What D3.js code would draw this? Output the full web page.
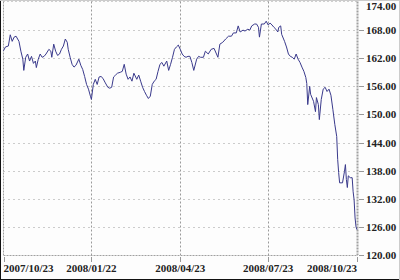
<!DOCTYPE html>
<html>
<head>
<meta charset="utf-8">
<script src="https://cdn.jsdelivr.net/npm/d3@7"></script>
<style>
  html, body { margin: 0; padding: 0; background: #fff; }
  svg { display: block; }
  .lbl { font-family: "Liberation Serif", "DejaVu Serif", serif; font-weight: bold; font-size: 11px; fill: #222; }
</style>
</head>
<body>
<svg id="chart" width="400" height="280"></svg>
<script>
const dates = [
  "2007-10-23","2007-10-25","2007-10-28","2007-10-30","2007-11-01","2007-11-03","2007-11-05","2007-11-08",
  "2007-11-10","2007-11-12","2007-11-13","2007-11-15","2007-11-17","2007-11-19","2007-11-21","2007-11-23",
  "2007-11-25","2007-11-26","2007-11-28","2007-11-30","2007-12-02","2007-12-04","2007-12-06","2007-12-09",
  "2007-12-11","2007-12-12","2007-12-14","2007-12-16","2007-12-18","2007-12-20","2007-12-22","2007-12-24",
  "2007-12-26","2007-12-28","2007-12-29","2007-12-31","2008-01-02","2008-01-04","2008-01-06","2008-01-09",
  "2008-01-11","2008-01-13","2008-01-15","2008-01-17","2008-01-19","2008-01-21","2008-01-22","2008-01-24",
  "2008-01-26","2008-01-28","2008-01-30","2008-02-01","2008-02-03","2008-02-05","2008-02-08","2008-02-10",
  "2008-02-12","2008-02-14","2008-02-16","2008-02-18","2008-02-21","2008-02-23","2008-02-25","2008-02-27",
  "2008-02-29","2008-03-02","2008-03-04","2008-03-06","2008-03-09","2008-03-11","2008-03-13","2008-03-15",
  "2008-03-17","2008-03-19","2008-03-21","2008-03-23","2008-03-25","2008-03-27","2008-03-29","2008-03-31",
  "2008-04-02","2008-04-04","2008-04-06","2008-04-09","2008-04-11","2008-04-13","2008-04-15","2008-04-17",
  "2008-04-19","2008-04-21","2008-04-23","2008-04-25","2008-04-27","2008-04-29","2008-05-01","2008-05-03",
  "2008-05-05","2008-05-07","2008-05-10","2008-05-12","2008-05-14","2008-05-17","2008-05-19","2008-05-22",
  "2008-05-25","2008-05-28","2008-06-01","2008-06-03","2008-06-06","2008-06-09","2008-06-12","2008-06-15",
  "2008-06-17","2008-06-20","2008-06-22","2008-06-24","2008-06-27","2008-06-29","2008-07-02","2008-07-04",
  "2008-07-06","2008-07-09","2008-07-11","2008-07-13","2008-07-14","2008-07-16","2008-07-19","2008-07-21",
  "2008-07-23","2008-07-25","2008-07-27","2008-07-29","2008-07-31","2008-08-02","2008-08-03","2008-08-05",
  "2008-08-06","2008-08-09","2008-08-11","2008-08-13","2008-08-15","2008-08-17","2008-08-19","2008-08-21",
  "2008-08-23","2008-08-25","2008-08-27","2008-08-29","2008-08-31","2008-09-01","2008-09-02","2008-09-04",
  "2008-09-05","2008-09-08","2008-09-10","2008-09-11","2008-09-13","2008-09-14","2008-09-16","2008-09-18",
  "2008-09-20","2008-09-22","2008-09-24","2008-09-26","2008-09-28","2008-09-30","2008-10-02","2008-10-03",
  "2008-10-04","2008-10-05","2008-10-08","2008-10-10","2008-10-11","2008-10-12","2008-10-13","2008-10-14",
  "2008-10-16","2008-10-18","2008-10-19","2008-10-20","2008-10-21","2008-10-22","2008-10-23"
];

const prices = [
  163.6,164.4,164.6,167.0,165.6,166.5,166.7,165.6,
  163.5,161.8,159.4,162.2,162.9,161.4,162.4,160.9,
  161.4,160.0,161.8,162.9,162.2,162.4,162.9,163.9,
  163.5,162.2,165.0,163.5,162.6,162.9,163.9,164.6,
  166.1,165.4,163.9,162.2,160.7,160.1,160.5,161.8,
  160.5,159.6,158.1,156.4,155.4,153.9,153.2,156.4,
  157.5,156.4,158.0,158.1,157.7,156.9,155.8,155.6,
  155.8,158.0,158.4,158.8,159.0,159.2,160.7,158.6,
  157.5,158.0,157.1,158.8,157.5,158.4,157.1,155.8,
  154.9,154.1,153.4,153.9,156.4,157.1,157.5,159.2,
  160.7,161.1,160.3,161.4,159.4,160.7,162.2,163.9,
  164.4,164.8,163.9,162.9,162.4,162.2,162.4,162.4,
  161.1,159.4,161.8,162.4,162.2,162.2,163.5,162.9,
  163.9,164.1,162.2,165.0,165.4,166.1,166.7,166.7,
  167.4,167.4,168.9,167.6,168.0,167.8,168.2,168.0,
  168.9,169.3,169.3,168.6,166.5,169.3,169.3,169.9,
  169.1,169.5,169.1,168.6,168.2,167.6,168.6,168.9,
  167.1,165.6,164.4,162.9,162.4,162.2,161.8,162.9,
  161.8,161.1,160.1,159.2,157.9,156.6,152.1,156.0,
  154.3,152.8,150.6,153.6,152.1,148.9,153.2,155.4,
  155.8,154.9,155.4,154.1,151.1,147.9,145.3,140.4,
  137.6,135.4,135.4,137.8,139.3,136.1,134.4,136.9,
  136.5,136.5,133.5,131.8,127.9,126.0,125.4
];

const xTickDates = ["2007-10-23","2008-01-22","2008-04-23","2008-07-23","2008-10-23"];
const xTickLabels = ["2007/10/23","2008/01/22","2008/04/23","2008/07/23","2008/10/23"];
const yTicks = [120,126,132,138,144,150,156,162,168,174];

const parse = d3.timeParse("%Y-%m-%d");
const data = dates.map((d, i) => ({ date: parse(d), value: prices[i] }));

const plotL = 3.5, plotR = 357, plotT = 1.5, plotB = 255;

const x = d3.scaleTime()
  .domain([parse("2007-10-23"), parse("2008-10-23")])
  .range([plotL, plotR]);

const y = d3.scaleLinear()
  .domain([120, 174])
  .range([plotB, 2]);

const svg = d3.select("#chart");

svg.append("rect")
  .attr("width", 400).attr("height", 280)
  .attr("fill", "#fdfdfd");

// outer frame
svg.append("line").attr("x1", 0.5).attr("x2", 0.5).attr("y1", 0).attr("y2", 280)
  .attr("stroke", "#111");
svg.append("line").attr("x1", 0).attr("x2", 400).attr("y1", 279.5).attr("y2", 279.5)
  .attr("stroke", "#111");
svg.append("line").attr("x1", 0).attr("x2", 400).attr("y1", 0.5).attr("y2", 0.5)
  .attr("stroke", "#ccc");
svg.append("line").attr("x1", 399.5).attr("x2", 399.5).attr("y1", 0).attr("y2", 280)
  .attr("stroke", "#ccc");

// horizontal grid
svg.append("g")
  .selectAll("line")
  .data(yTicks.filter(v => v > 120 && v < 174))
  .enter()
  .append("line")
  .attr("x1", plotL).attr("x2", plotR)
  .attr("y1", d => Math.round(y(d)) + 0.5)
  .attr("y2", d => Math.round(y(d)) + 0.5)
  .attr("stroke", "#9a9a9a")
  .attr("stroke-dasharray", "1,4");

// vertical grid
svg.append("g")
  .selectAll("line")
  .data(xTickDates.slice(1, -1))
  .enter()
  .append("line")
  .attr("x1", d => Math.round(x(parse(d))) + 0.5)
  .attr("x2", d => Math.round(x(parse(d))) + 0.5)
  .attr("y1", plotT).attr("y2", plotB)
  .attr("stroke", "#9a9a9a")
  .attr("stroke-dasharray", "2,2");

// plot border
const border = svg.append("g")
  .attr("stroke", "#a0a0a0")
  .attr("fill", "none");
border.append("line").attr("x1", plotL).attr("x2", plotL).attr("y1", plotT).attr("y2", plotB)
  .attr("stroke-dasharray", "2,1");
border.append("line").attr("x1", plotL).attr("x2", plotR).attr("y1", plotT).attr("y2", plotT)
  .attr("stroke-dasharray", "1,3");
border.append("line").attr("x1", plotL).attr("x2", plotR + 1).attr("y1", plotB + 0.5).attr("y2", plotB + 0.5)
  .attr("stroke-dasharray", "2,1");
border.append("line").attr("x1", plotR + 0.5).attr("x2", plotR + 0.5).attr("y1", plotT).attr("y2", plotB)
  .attr("stroke-width", 2)
  .attr("stroke-dasharray", "2,1");

// price line
const line = d3.line()
  .x(d => x(d.date))
  .y(d => y(d.value));

svg.append("path")
  .datum(data)
  .attr("d", line)
  .attr("fill", "none")
  .attr("stroke", "#3a3a8c")
  .attr("stroke-width", 1)
  .attr("stroke-linejoin", "round");

// x ticks and labels
const xAxis = svg.append("g");
xAxis.selectAll("line")
  .data(xTickDates)
  .enter()
  .append("line")
  .attr("x1", d => Math.round(x(parse(d))) + 0.5)
  .attr("x2", d => Math.round(x(parse(d))) + 0.5)
  .attr("y1", plotB + 2).attr("y2", plotB + 7)
  .attr("stroke", "#999");
xAxis.selectAll("text")
  .data(xTickDates)
  .enter()
  .append("text")
  .attr("class", "lbl")
  .attr("x", d => x(parse(d)))
  .attr("y", 272)
  .attr("text-anchor", (d, i) => i === 0 ? "start" : i === xTickDates.length - 1 ? "end" : "middle")
  .text((d, i) => xTickLabels[i]);

// y ticks and labels
const yAxis = svg.append("g");
yAxis.selectAll("line")
  .data(yTicks.filter(v => v < 174))
  .enter()
  .append("line")
  .attr("x1", 359).attr("x2", 364)
  .attr("y1", d => Math.round(y(d)) + 0.5)
  .attr("y2", d => Math.round(y(d)) + 0.5)
  .attr("stroke", "#999");
yAxis.selectAll("text")
  .data(yTicks)
  .enter()
  .append("text")
  .attr("class", "lbl")
  .attr("x", 366)
  .attr("y", d => Math.max(y(d) + 4, 9.5))
  .text(d => d.toFixed(2));
</script>
</body>
</html>
